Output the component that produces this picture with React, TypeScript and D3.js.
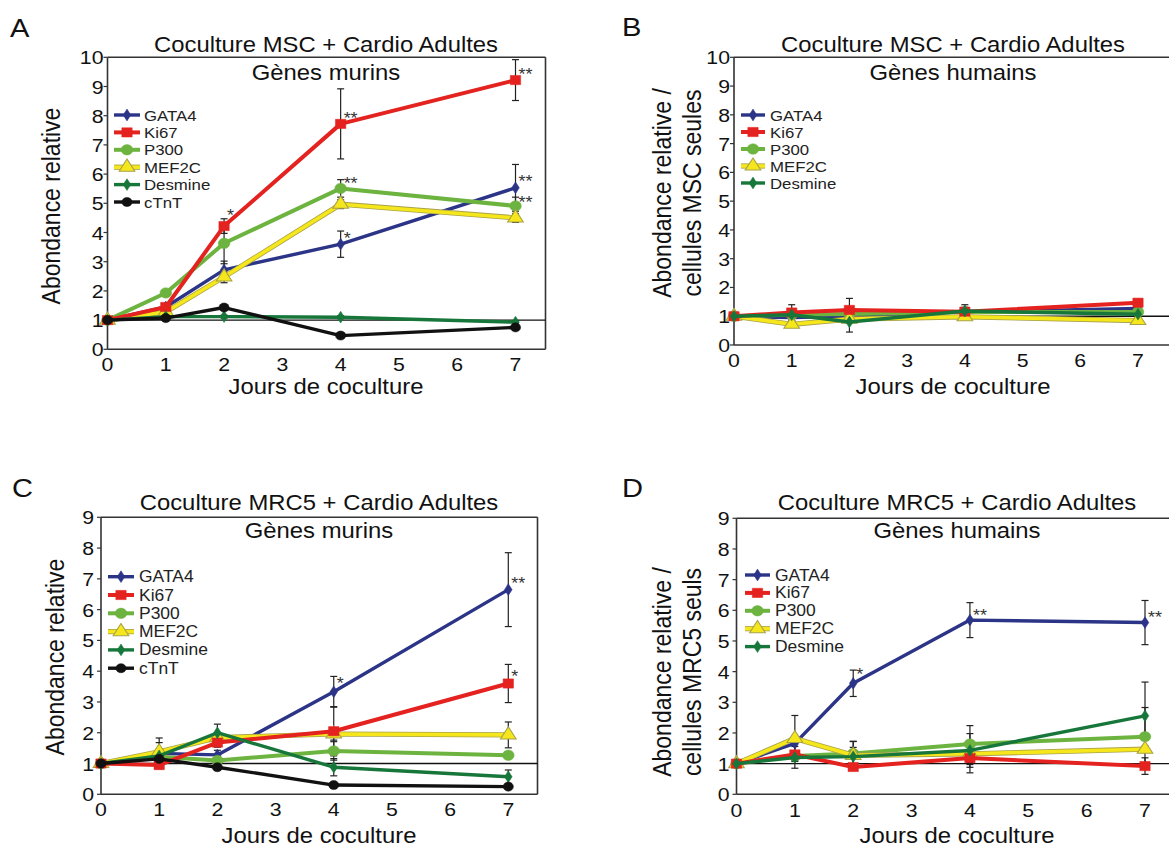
import React from "react";
import * as d3 from "d3";

// ---------- data ----------
const days = [0, 1, 2, 4, 7];
const xTickValues = [0, 1, 2, 3, 4, 5, 6, 7];
const yTicks10 = [0, 1, 2, 3, 4, 5, 6, 7, 8, 9, 10];
const yTicks9 = [0, 1, 2, 3, 4, 5, 6, 7, 8, 9];

const genesMurins = ["GATA4", "Ki67", "P300", "MEF2C", "Desmine", "cTnT"];
const genesHumains = ["GATA4", "Ki67", "P300", "MEF2C", "Desmine"];

// Panel A : MSC + cardio, mouse genes
const valuesA: Record<string, number[]> = {
  GATA4: [1.0, 1.45, 2.72, 3.6, 5.53],
  Ki67: [1.0, 1.45, 4.22, 7.72, 9.22],
  P300: [1.0, 1.93, 3.63, 5.51, 4.91],
  MEF2C: [1.0, 1.28, 2.48, 4.97, 4.5],
  Desmine: [1.0, 1.12, 1.12, 1.1, 0.93],
  cTnT: [1.0, 1.07, 1.43, 0.47, 0.75],
};
const errorsA: Record<string, number[]> = {
  GATA4: [0, 0.1, 0.3, 0.45, 0.8],
  Ki67: [0, 0.1, 0.25, 1.2, 0.7],
  P300: [0, 0.05, 0.7, 0.3, 0.3],
  MEF2C: [0, 0.05, 0.2, 0.15, 0.15],
  Desmine: [0, 0.05, 0.05, 0.05, 0.05],
  cTnT: [0, 0.05, 0.05, 0.05, 0.05],
};
// Panel B : MSC + cardio, human genes
const valuesB: Record<string, number[]> = {
  GATA4: [1.0, 0.95, 1.0, 1.15, 1.27],
  Ki67: [1.0, 1.13, 1.22, 1.16, 1.47],
  P300: [1.0, 1.05, 1.08, 1.15, 1.15],
  MEF2C: [1.0, 0.72, 0.9, 0.98, 0.85],
  Desmine: [1.0, 1.05, 0.8, 1.18, 1.07],
};
const errorsB: Record<string, number[]> = {
  GATA4: [0, 0.1, 0.1, 0.1, 0.1],
  Ki67: [0, 0.27, 0.4, 0.15, 0.1],
  P300: [0, 0.05, 0.05, 0.05, 0.05],
  MEF2C: [0, 0.05, 0.05, 0.05, 0.05],
  Desmine: [0, 0.1, 0.35, 0.22, 0.1],
};
// Panel C : MRC5 + cardio, mouse genes
const valuesC: Record<string, number[]> = {
  GATA4: [1.0, 1.33, 1.28, 3.33, 6.65],
  Ki67: [1.0, 0.95, 1.68, 2.05, 3.6],
  P300: [1.0, 1.22, 1.1, 1.41, 1.27],
  MEF2C: [1.0, 1.38, 1.84, 1.96, 1.93],
  Desmine: [1.0, 1.25, 2.0, 0.88, 0.57],
  cTnT: [1.0, 1.15, 0.88, 0.3, 0.25],
};
const errorsC: Record<string, number[]> = {
  GATA4: [0, 0.5, 0.15, 0.5, 1.2],
  Ki67: [0, 0.1, 0.15, 0.8, 0.62],
  P300: [0, 0.1, 0.1, 0.3, 0.1],
  MEF2C: [0, 0.3, 0.1, 0.2, 0.42],
  Desmine: [0, 0.1, 0.28, 0.28, 0.22],
  cTnT: [0, 0.05, 0.05, 0.05, 0.05],
};
// Panel D : MRC5 + cardio, human genes
const valuesD: Record<string, number[]> = {
  GATA4: [1.0, 1.66, 3.62, 5.68, 5.6],
  Ki67: [1.0, 1.3, 0.89, 1.18, 0.92],
  P300: [1.0, 1.25, 1.33, 1.64, 1.88],
  MEF2C: [1.0, 1.82, 1.27, 1.32, 1.47],
  Desmine: [1.0, 1.2, 1.23, 1.43, 2.56],
};
const errorsD: Record<string, number[]> = {
  GATA4: [0, 0.1, 0.43, 0.57, 0.72],
  Ki67: [0, 0.45, 0.1, 0.48, 0.27],
  P300: [0, 0.1, 0.4, 0.6, 0.95],
  MEF2C: [0, 0.75, 0.45, 0.35, 0.1],
  Desmine: [0, 0.1, 0.3, 0.55, 1.1],
};

type Star = { gene: string; day: number; text: string; dy: number };
const starsA: Star[] = [
  { gene: "Ki67", day: 2, text: "*", dy: -14 },
  { gene: "Ki67", day: 4, text: "**", dy: -9 },
  { gene: "P300", day: 4, text: "**", dy: -8 },
  { gene: "GATA4", day: 4, text: "*", dy: -9 },
  { gene: "Ki67", day: 7, text: "**", dy: -9 },
  { gene: "GATA4", day: 7, text: "**", dy: -10 },
  { gene: "P300", day: 7, text: "**", dy: -7 },
];
const starsB: Star[] = [];
const starsC: Star[] = [
  { gene: "GATA4", day: 4, text: "*", dy: -12 },
  { gene: "GATA4", day: 7, text: "**", dy: -10 },
  { gene: "Ki67", day: 7, text: "*", dy: -11 },
];
const starsD: Star[] = [
  { gene: "GATA4", day: 2, text: "*", dy: -12 },
  { gene: "GATA4", day: 4, text: "**", dy: -8 },
  { gene: "GATA4", day: 7, text: "**", dy: -9 },
];

// ---------- styles ----------
const FONT = "'Liberation Sans', Arial, Helvetica, sans-serif";
const SX = 1.12; // the figure is slightly stretched horizontally
const geneStyle: Record<string, { color: string; symbol: any; size: number; width: number }> = {
  GATA4: { color: "#2b3487", symbol: d3.symbolDiamond, size: 40, width: 3.4 },
  Ki67: { color: "#e4221f", symbol: d3.symbolSquare, size: 85, width: 4 },
  P300: { color: "#6db33f", symbol: d3.symbolCircle, size: 85, width: 4 },
  MEF2C: { color: "#f5e71b", symbol: d3.symbolTriangle, size: 85, width: 3.6 },
  Desmine: { color: "#17773b", symbol: d3.symbolDiamond, size: 40, width: 3.4 },
  cTnT: { color: "#111111", symbol: d3.symbolCircle, size: 65, width: 3.4 },
};
const drawOrder = ["GATA4", "P300", "MEF2C", "Ki67", "Desmine", "cTnT"];

type PanelCfg = {
  letter: string;
  letterX: number;
  letterY: number;
  title: string;
  subtitle: string;
  cx: number;
  titleY: number;
  subY: number;
  yLabel: string[];
  yLabelX: number[];
  yLabelCy: number;
  xLabelY: number;
  left: number;
  right: number;
  top: number;
  bottom: number;
  x7: number;
  ymax: number;
  yTicks: number[];
  yTickGap: number;
  xTickY: number;
  openRight: boolean;
  genes: string[];
  values: Record<string, number[]>;
  errors: Record<string, number[]>;
  stars: Star[];
  legend: { x1: number; x2: number; tx: number; y0: number; dy: number; fs: number };
};

const panels: PanelCfg[] = [
  {
    letter: "A", letterX: 10, letterY: 37,
    title: "Coculture MSC + Cardio Adultes", subtitle: "Gènes murins",
    cx: 326, titleY: 52, subY: 80,
    yLabel: ["Abondance relative"], yLabelX: [60], yLabelCy: 206, xLabelY: 394,
    left: 107.5, right: 545.5, top: 57.3, bottom: 349.3, x7: 515.5, ymax: 10, yTicks: yTicks10, yTickGap: 4, xTickY: 371,
    openRight: false,
    genes: genesMurins, values: valuesA, errors: errorsA, stars: starsA,
    legend: { x1: 114, x2: 140, tx: 144, y0: 115, dy: 17.4, fs: 15 },
  },
  {
    letter: "B", letterX: 622, letterY: 36,
    title: "Coculture MSC + Cardio Adultes", subtitle: "Gènes humains",
    cx: 953, titleY: 52, subY: 80,
    yLabel: ["Abondance relative /", "cellules MSC seules"], yLabelX: [671, 701], yLabelCy: 193, xLabelY: 394,
    left: 734, right: 1169, top: 57.3, bottom: 345, x7: 1138, ymax: 10, yTicks: yTicks10, yTickGap: 4, xTickY: 367,
    openRight: true,
    genes: genesHumains, values: valuesB, errors: errorsB, stars: starsB,
    legend: { x1: 741, x2: 765, tx: 770, y0: 115, dy: 17, fs: 15 },
  },
  {
    letter: "C", letterX: 12, letterY: 497,
    title: "Coculture MRC5 + Cardio Adultes", subtitle: "Gènes murins",
    cx: 319, titleY: 510, subY: 538,
    yLabel: ["Abondance relative"], yLabelX: [64], yLabelCy: 657, xLabelY: 843,
    left: 101, right: 537.5, top: 517.3, bottom: 794.3, x7: 508.3, ymax: 9, yTicks: yTicks9, yTickGap: 7, xTickY: 816,
    openRight: false,
    genes: genesMurins, values: valuesC, errors: errorsC, stars: starsC,
    legend: { x1: 108, x2: 134, tx: 139, y0: 576.7, dy: 18.3, fs: 15.6 },
  },
  {
    letter: "D", letterX: 622, letterY: 497,
    title: "Coculture MRC5 + Cardio Adultes", subtitle: "Gènes humains",
    cx: 957, titleY: 510, subY: 538,
    yLabel: ["Abondance relative /", "cellules MRC5 seuls"], yLabelX: [671, 701], yLabelCy: 672, xLabelY: 843,
    left: 736.5, right: 1169, top: 518.3, bottom: 794.3, x7: 1145, ymax: 9, yTicks: yTicks9, yTickGap: 7, xTickY: 817,
    openRight: true,
    genes: genesHumains, values: valuesD, errors: errorsD, stars: starsD,
    legend: { x1: 745, x2: 770, tx: 775, y0: 575, dy: 17.9, fs: 15.6 },
  },
];

function SText({
  x, y, size, anchor = "start", rotate = 0, fill = "#111", children,
}: {
  x: number; y: number; size: number; anchor?: string; rotate?: number; fill?: string; children: React.ReactNode;
}) {
  return (
    <text
      transform={`translate(${x},${y}) scale(${SX},1)${rotate ? ` rotate(${rotate})` : ""}`}
      fontSize={size}
      textAnchor={anchor}
      fill={fill}
    >
      {children}
    </text>
  );
}

function GeneLine({ d, color, width, gene }: { d: string; color: string; width: number; gene: string }) {
  if (gene === "MEF2C") {
    return (
      <g>
        <path d={d} fill="none" stroke="#a8a24a" strokeWidth={width + 1.6} strokeLinejoin="round" />
        <path d={d} fill="none" stroke={color} strokeWidth={width} strokeLinejoin="round" />
      </g>
    );
  }
  return <path d={d} fill="none" stroke={color} strokeWidth={width} strokeLinejoin="round" />;
}

function Marker({ gene, x, y }: { gene: string; x: number; y: number }) {
  const st = geneStyle[gene];
  const p = d3.symbol().type(st.symbol).size(st.size)();
  return (
    <path
      d={p || ""}
      transform={`translate(${x},${y}) scale(${SX},1)`}
      fill={st.color}
      stroke={gene === "MEF2C" ? "#a8a24a" : st.color}
      strokeWidth={gene === "MEF2C" ? 1 : 0.5}
    />
  );
}

function Panel({ cfg }: { cfg: PanelCfg }) {
  const xs = d3.scaleLinear().domain([0, 7]).range([cfg.left, cfg.x7]);
  const ys = d3.scaleLinear().domain([0, cfg.ymax]).range([cfg.bottom, cfg.top]);
  const line = d3
    .line<number>()
    .x((_, i) => xs(days[i]))
    .y((v) => ys(v));
  const order = drawOrder.filter((g) => cfg.genes.includes(g));
  const { legend } = cfg;
  return (
    <g fontFamily={FONT}>
      <SText x={cfg.letterX} y={cfg.letterY} size={26}>{cfg.letter}</SText>
      <SText x={cfg.cx} y={cfg.titleY} size={21.3} anchor="middle">{cfg.title}</SText>
      <SText x={cfg.cx} y={cfg.subY} size={21.3} anchor="middle">{cfg.subtitle}</SText>
      {cfg.yLabel.map((t, i) => (
        <SText key={i} x={cfg.yLabelX[i]} y={cfg.yLabelCy} size={23} anchor="middle" rotate={-90}>
          {t}
        </SText>
      ))}
      <SText x={cfg.cx} y={cfg.xLabelY} size={21.3} anchor="middle">Jours de coculture</SText>

      {/* axis ticks and labels */}
      {cfg.yTicks.map((t) => (
        <g key={"y" + t}>
          <line x1={cfg.left - 4} x2={cfg.left} y1={ys(t)} y2={ys(t)} stroke="#333" strokeWidth={1.2} />
          <SText x={cfg.left - cfg.yTickGap} y={ys(t) + 7} size={19} anchor="end">{t}</SText>
        </g>
      ))}
      {xTickValues.map((t) => (
        <SText key={"x" + t} x={xs(t)} y={cfg.xTickY} size={19} anchor="middle">{t}</SText>
      ))}

      {/* frame */}
      <g stroke="#333" strokeWidth={1.6} fill="none">
        <line x1={cfg.left} x2={cfg.right} y1={cfg.top} y2={cfg.top} />
        <line x1={cfg.left} x2={cfg.right} y1={cfg.bottom} y2={cfg.bottom} />
        <line x1={cfg.left} x2={cfg.left} y1={cfg.top} y2={cfg.bottom} />
        {!cfg.openRight && <line x1={cfg.right} x2={cfg.right} y1={cfg.top} y2={cfg.bottom} />}
      </g>
      <line x1={cfg.left} x2={cfg.right} y1={ys(1)} y2={ys(1)} stroke="#111" strokeWidth={1.3} />

      {/* error bars */}
      {order.map((g) =>
        cfg.values[g].map((v, i) => {
          const e = cfg.errors[g][i];
          if (!e) return null;
          const x = xs(days[i]);
          return (
            <g key={g + "e" + i} stroke="#222" strokeWidth={1.2}>
              <line x1={x} x2={x} y1={ys(v - e)} y2={ys(v + e)} />
              <line x1={x - 3.5} x2={x + 3.5} y1={ys(v + e)} y2={ys(v + e)} />
              <line x1={x - 3.5} x2={x + 3.5} y1={ys(v - e)} y2={ys(v - e)} />
            </g>
          );
        })
      )}

      {/* lines + markers */}
      {order.map((g) => {
        const st = geneStyle[g];
        return (
          <g key={g}>
            <GeneLine d={line(cfg.values[g]) || ""} color={st.color} width={st.width} gene={g} />
            {cfg.values[g].map((v, i) => (
              <Marker key={i} gene={g} x={xs(days[i])} y={ys(v)} />
            ))}
          </g>
        );
      })}

      {/* significance stars */}
      {cfg.stars.map((s, i) => {
        const idx = days.indexOf(s.day);
        const v = cfg.values[s.gene][idx];
        return (
          <SText key={i} x={xs(s.day) + 3} y={ys(v) + s.dy + 9} size={16} fill="#333">
            {s.text}
          </SText>
        );
      })}

      {/* legend */}
      {cfg.genes.map((g, i) => {
        const st = geneStyle[g];
        const y = legend.y0 + i * legend.dy;
        return (
          <g key={"l" + g}>
            <GeneLine d={`M${legend.x1},${y}L${legend.x2},${y}`} color={st.color} width={st.width} gene={g} />
            <Marker gene={g} x={(legend.x1 + legend.x2) / 2} y={y} />
            <SText x={legend.tx} y={y + 5.5} size={legend.fs} fill="#222">{g}</SText>
          </g>
        );
      })}
    </g>
  );
}

export default function App() {
  return (
    <svg
      width={1169}
      height={847}
      viewBox="0 0 1169 847"
      style={{ position: "absolute", left: 0, top: 0, background: "#fff" }}
    >
      <rect x={0} y={0} width={1169} height={847} fill="#fff" />
      {panels.map((p) => (
        <Panel key={p.letter} cfg={p} />
      ))}
    </svg>
  );
}
